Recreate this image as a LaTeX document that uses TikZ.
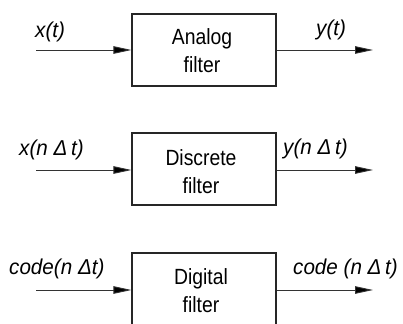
\documentclass[tikz,border=0pt]{standalone}
\usepackage{fontspec}
\setmainfont{Liberation Sans}
\newfontfamily\blkfont[FakeStretch=0.88]{Liberation Sans}
\newfontfamily\sigfont[FakeStretch=0.96]{Liberation Sans}
\usetikzlibrary{arrows.meta}
\begin{document}
\begin{tikzpicture}[x=1pt,y=-1pt,
  blk/.style={draw=black!85,line width=1.1pt,minimum width=144pt,minimum height=72pt,inner sep=0pt},
  blktext/.style={font=\blkfont\fontsize{22}{28}\selectfont,align=center,inner sep=0pt},
  sig/.style={font=\sigfont\fontsize{21.5}{24}\selectfont\itshape,inner sep=0pt},
  flow/.style={draw=black!80,line width=0.9pt,-{Triangle[length=18pt,width=7.5pt,fill=black]}}]
\useasboundingbox (0,0) rectangle (403,323);
\clip (0,0) rectangle (403,323);
% boxes
\node[blk] (b1) at (204,50) {};
\node[blk] (b2) at (204,169) {};
\node[blk] (b3) at (204,289) {};
\node[blktext] (t1) at (202,51) {Analog\\filter};
\node[blktext] (t2) at (201,172) {Discrete\\filter};
\node[blktext] (t3) at (201,291) {Digital\\filter};
% connector endpoints
\coordinate (i1) at (36,50);
\coordinate (o1) at (373,50);
\coordinate (i2) at (36,170);
\coordinate (o2) at (373,170);
\coordinate (i3) at (36,290);
\coordinate (o3) at (373,290);
\draw[flow] (i1) -- (b1.west |- i1);
\draw[flow] (b1.east |- o1) -- (o1);
\draw[flow] (i2) -- (b2.west |- i2);
\draw[flow] (b2.east |- o2) -- (o2);
\draw[flow] (i3) -- (b3.west |- i3);
\draw[flow] (b3.east |- o3) -- (o3);
% labels
\node[sig,anchor=west] (l1) at (35,32) {x(t)};
\node[sig,anchor=west] (r1) at (316,30) {y(t)};
\node[sig,anchor=west] (l2) at (19,150) {x(n Δ\,t)};
\node[sig,anchor=west] (r2) at (283,149) {y(n Δ\,t)};
\node[sig,anchor=west] (l3) at (9,269) {code(n Δt)};
\node[sig,anchor=east] (r3) at (398,269) {code (n Δ\,t)};
\end{tikzpicture}
\end{document}
